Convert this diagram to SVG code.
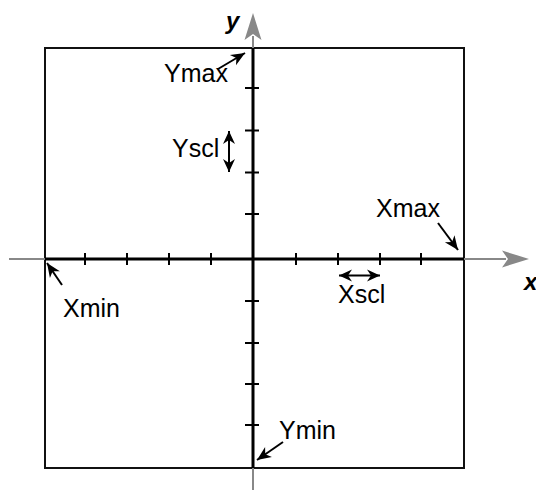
<svg xmlns="http://www.w3.org/2000/svg" width="536" height="490" viewBox="0 0 536 490">
<style>
.lbl{font-family:"Liberation Sans",Arial,sans-serif;font-size:25px;fill:#000}
.ax{font-family:"Liberation Sans",Arial,sans-serif;font-size:24px;font-weight:bold;font-style:italic;fill:#000}
.grey{stroke:#888;stroke-width:2;fill:none}
.axis{stroke:#000;stroke-width:3;fill:none}
.tick{stroke:#000;stroke-width:2}
.ptr{stroke:#000;stroke-width:2;fill:none}
</style>
<defs>
<marker id="ah" viewBox="-16 -7 18 14" markerWidth="18" markerHeight="14" refX="0" refY="0" orient="auto" markerUnits="userSpaceOnUse">
<path d="M0,0 L-14,-6 L-10,0 L-14,6 Z" fill="#000"/>
</marker>
<marker id="ahs" viewBox="-16 -7 18 14" markerWidth="18" markerHeight="14" refX="0" refY="0" orient="auto-start-reverse" markerUnits="userSpaceOnUse">
<path d="M0,0 L-13,-6 L-9,0 L-13,6 Z" fill="#000"/>
</marker>
</defs>
<rect id="box" x="45" y="48" width="419" height="420" fill="none" stroke="#111" stroke-width="2"/>
<g id="axes">
<line class="grey" x1="9" y1="259" x2="45" y2="259"/>
<line class="grey" x1="464" y1="259" x2="506" y2="259"/>
<path d="M529,259 L502,250.5 L508,259 L502,267.5 Z" fill="#888"/>
<line class="grey" x1="253" y1="468" x2="253" y2="490"/>
<line class="grey" x1="253" y1="48" x2="253" y2="36"/>
<path d="M253,13 L244.5,40 L253,34 L261.5,40 Z" fill="#888"/>
<line class="axis" x1="45" y1="259" x2="464" y2="259"/>
<line class="axis" x1="253" y1="48" x2="253" y2="468"/>
<g class="tick">
<line x1="85" y1="253" x2="85" y2="265"/>
<line x1="127" y1="253" x2="127" y2="265"/>
<line x1="169" y1="253" x2="169" y2="265"/>
<line x1="211" y1="253" x2="211" y2="265"/>
<line x1="296" y1="253" x2="296" y2="265"/>
<line x1="338" y1="253" x2="338" y2="265"/>
<line x1="380" y1="253" x2="380" y2="265"/>
<line x1="421" y1="253" x2="421" y2="265"/>
<line x1="245" y1="88" x2="259" y2="88"/>
<line x1="245" y1="130.5" x2="259" y2="130.5"/>
<line x1="245" y1="172.5" x2="259" y2="172.5"/>
<line x1="245" y1="214" x2="259" y2="214"/>
<line x1="245" y1="301" x2="259" y2="301"/>
<line x1="245" y1="343" x2="259" y2="343"/>
<line x1="245" y1="384" x2="259" y2="384"/>
<line x1="245" y1="425" x2="259" y2="425"/>
</g>
<text class="ax" x="226" y="29">y</text>
<text class="ax" x="524" y="290">x</text>
</g>
<g id="connectors">
<line class="ptr" x1="218" y1="69" x2="245" y2="53" marker-end="url(#ah)"/>
<line class="ptr" x1="229" y1="131" x2="229" y2="172" marker-start="url(#ahs)" marker-end="url(#ahs)"/>
<line class="ptr" x1="62" y1="285" x2="47" y2="263" marker-end="url(#ah)"/>
<line class="ptr" x1="438" y1="223" x2="458" y2="250" marker-end="url(#ah)"/>
<line class="ptr" x1="339" y1="275.5" x2="380" y2="275.5" marker-start="url(#ahs)" marker-end="url(#ahs)"/>
<line class="ptr" x1="283" y1="442" x2="257" y2="460" marker-end="url(#ah)"/>
</g>
<g id="labels">
<text class="lbl" x="164" y="82">Ymax</text>
<text class="lbl" x="172" y="157">Yscl</text>
<text class="lbl" x="63" y="317">Xmin</text>
<text class="lbl" x="376" y="217">Xmax</text>
<text class="lbl" x="338" y="303">Xscl</text>
<text class="lbl" x="279" y="439">Ymin</text>
</g>
</svg>
